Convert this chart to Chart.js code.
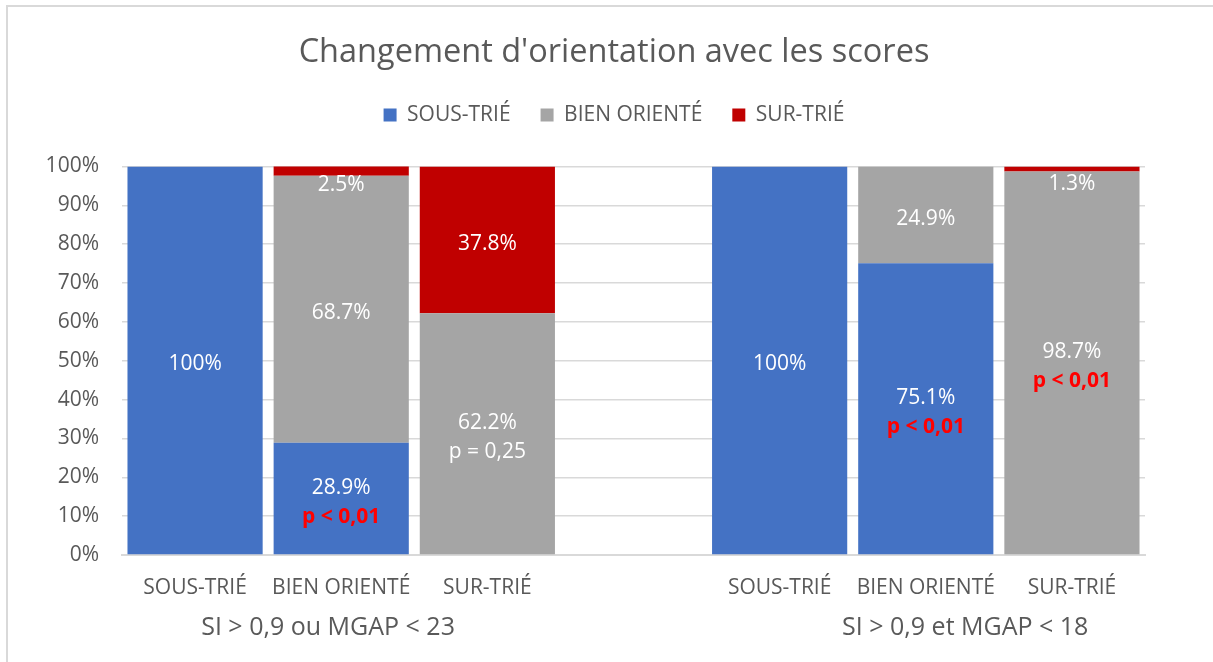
<!DOCTYPE html>
<html>
<head>
<meta charset="utf-8">
<script src="https://cdn.jsdelivr.net/npm/chart.js@4.4.1/dist/chart.umd.min.js"></script>
<style>
  html, body { margin: 0; padding: 0; background: #fff; }
  #wrap { position: relative; width: 1213px; height: 662px; }
</style>
</head>
<body>
<div id="wrap"><canvas id="chart" width="1213" height="662"></canvas></div>
<script>
// categories (index 3 is the empty gap between the two score groups)
const categories = ['SOUS-TRIÉ', 'BIEN ORIENTÉ', 'SUR-TRIÉ', '', 'SOUS-TRIÉ', 'BIEN ORIENTÉ', 'SUR-TRIÉ'];
const groupNames = ['SI > 0,9 ou MGAP < 23', 'SI > 0,9 et MGAP < 18'];
const groupCenters = [0.91, 5.27]; // category index the group caption is centred on

// series values, in %
const sousTrie    = [100, 28.9, null, null, 100, 75.1, null];
const bienOriente = [null, 68.7, 62.2, null, null, 24.9, 98.7];
const surTrie     = [null, 2.5, 37.8, null, null, null, 1.3];

// p-values written under the main segment of a bar
const pNotes       = [null, 'p < 0,01', 'p = 0,25', null, null, 'p < 0,01', 'p < 0,01'];
const pNoteSeries  = [null, 0, 1, null, null, 0, 1];
const pSignificant = [false, true, false, false, false, true, true];

const yTicks = [0, 10, 20, 30, 40, 50, 60, 70, 80, 90, 100];

const FONT = "'Open Sans', sans-serif";
const TEXT_GREY = '#595959';

// outer frame like the office chart box
const framePlugin = {
  id: 'frame',
  beforeDraw(chart) {
    const ctx = chart.ctx;
    ctx.save();
    ctx.strokeStyle = '#d9d9d9';
    ctx.lineWidth = 2;
    ctx.strokeRect(7, 6, 1400, 900);
    ctx.restore();
  }
};

// more room under the legend, and title + legend centred on the whole frame
const headerTweaks = {
  id: 'headerTweaks',
  beforeLayout(chart) {
    const lg = chart.legend;
    if (!lg || lg._gapPatched) return;
    const fit = lg.fit;
    lg.fit = function () { fit.call(this); this.height += 31; };
    lg._gapPatched = true;
  },
  afterLayout(chart) {
    if (chart.titleBlock) chart.titleBlock.left += 83;
    if (chart.legend) chart.legend.left += 83;
  }
};

// values inside the segments, plus the p-value lines
const segmentLabels = {
  id: 'segmentLabels',
  afterDatasetsDraw(chart) {
    const ctx = chart.ctx;
    const lineH = 29;
    ctx.save();
    ctx.textAlign = 'center';
    ctx.textBaseline = 'middle';
    chart.data.datasets.forEach((ds, di) => {
      const meta = chart.getDatasetMeta(di);
      meta.data.forEach((bar, i) => {
        const v = ds.data[i];
        if (v == null) return;
        const lines = [{ text: (v === 100 ? '100' : v.toFixed(1)) + '%', color: '#fff', bold: false }];
        if (pNotes[i] && pNoteSeries[i] === di) {
          lines.push({ text: pNotes[i], color: pSignificant[i] ? '#ff0000' : '#fff', bold: pSignificant[i] });
        }
        const top = Math.max(Math.min(bar.y, bar.base), chart.chartArea.top);
        const bottom = Math.max(bar.y, bar.base);
        const blockH = lines.length * lineH;
        let cy = (top + bottom) / 2;
        // too thin a segment: put the label just under it
        if (bottom - top < 20) cy = Math.max(bottom + 5, top + 14);
        cy += 4;
        lines.forEach((ln, k) => {
          ctx.font = (ln.bold ? 'bold ' : '') + '21px ' + FONT;
          ctx.fillStyle = ln.color;
          ctx.fillText(ln.text, bar.x, cy - blockH / 2 + lineH / 2 + k * lineH);
        });
      });
    });
    ctx.restore();
  }
};

// second level of the category axis
const groupCaptions = {
  id: 'groupCaptions',
  afterDraw(chart) {
    const ctx = chart.ctx;
    const xs = chart.scales.x;
    ctx.save();
    ctx.font = '25px ' + FONT;
    ctx.fillStyle = TEXT_GREY;
    ctx.textAlign = 'center';
    ctx.textBaseline = 'middle';
    groupNames.forEach((g, i) => {
      ctx.fillText(g, xs.getPixelForValue(groupCenters[i]), 628);
    });
    ctx.restore();
  }
};

new Chart(document.getElementById('chart'), {
  type: 'bar',
  data: {
    labels: categories,
    datasets: [
      { label: 'SOUS-TRIÉ', data: sousTrie, backgroundColor: '#4472c4' },
      { label: 'BIEN ORIENTÉ', data: bienOriente, backgroundColor: '#a5a5a5' },
      { label: 'SUR-TRIÉ', data: surTrie, backgroundColor: '#c00000' }
    ]
  },
  options: {
    responsive: false,
    animation: false,
    barPercentage: 0.925,
    categoryPercentage: 1,
    layout: { padding: { left: 0, right: 68, top: 0, bottom: 0 } },
    plugins: {
      title: {
        display: true,
        text: "Changement d'orientation avec les scores",
        color: TEXT_GREY,
        font: { family: FONT, size: 32.5, weight: 'normal' },
        padding: { top: 33.5, bottom: 2 }
      },
      legend: {
        position: 'top',
        labels: {
          color: TEXT_GREY,
          font: { family: FONT, size: 21 },
          boxWidth: 13,
          boxHeight: 13,
          padding: 30
        }
      },
      tooltip: { enabled: false }
    },
    scales: {
      x: {
        stacked: true,
        grid: { display: false, drawTicks: false },
        border: { display: true, color: '#d9d9d9', width: 2 },
        ticks: { color: TEXT_GREY, font: { family: FONT, size: 21 }, padding: 20, maxRotation: 0, autoSkip: false },
        afterFit: (s) => { s.height = 107; }
      },
      y: {
        stacked: true,
        min: 0,
        max: 100,
        grid: { color: '#d9d9d9', lineWidth: 1.5, drawTicks: false },
        border: { display: false },
        afterBuildTicks: (s) => { s.ticks = yTicks.map(v => ({ value: v })); },
        ticks: {
          color: TEXT_GREY,
          font: { family: FONT, size: 21 },
          padding: 23,
          callback: (v) => v + '%'
        },
        afterFit: (s) => { s.width = 122; }
      }
    }
  },
  plugins: [framePlugin, headerTweaks, segmentLabels, groupCaptions]
});
</script>
</body>
</html>
